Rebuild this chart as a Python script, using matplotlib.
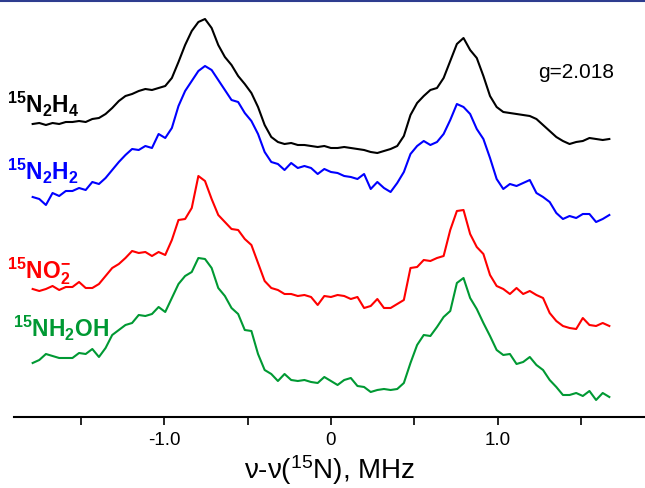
import numpy as np
import matplotlib.pyplot as plt
from matplotlib.lines import Line2D

plt.rcParams["font.family"] = ["Liberation Sans", "DejaVu Sans"]
plt.rcParams["mathtext.default"] = "regular"

# ENDOR sweep, nu - nu(15N) in MHz
freq = np.linspace(-1.79, 1.67, 88)

# stacked spectra (arbitrary units, offsets included)
n2h4 = [293, 294, 292, 294, 293, 295, 295, 296, 295, 298, 299, 303, 309, 316, 321, 323,
        326, 328, 327, 329, 331, 339, 355, 372, 386, 395, 398, 389, 372, 360, 352, 341,
        333, 324, 310, 292, 280, 275, 273, 274, 272, 272, 271, 270, 271, 269, 269, 270,
        269, 268, 267, 265, 264, 266, 268, 271, 281, 302, 314, 321, 327, 329, 339, 356,
        373, 379, 367, 359, 341, 321, 310, 305, 304, 303, 302, 301, 298, 292, 286, 280,
        276, 273, 275, 276, 279, 278, 277, 278]
n2h2 = [220, 218, 212, 224, 221, 226, 226, 229, 227, 235, 233, 239, 247, 255, 262, 268,
        267, 271, 269, 283, 279, 289, 311, 326, 336, 346, 351, 347, 337, 327, 317, 315,
        304, 296, 283, 265, 255, 253, 247, 254, 249, 251, 249, 243, 248, 245, 244, 241,
        240, 238, 243, 228, 235, 229, 225, 234, 245, 263, 271, 276, 272, 275, 283, 297,
        313, 310, 303, 288, 278, 259, 238, 228, 233, 231, 234, 237, 224, 220, 215, 204,
        198, 201, 199, 203, 203, 195, 198, 202]
no2 = [128, 126, 128, 131, 127, 130, 130, 135, 129, 129, 133, 141, 149, 153, 159, 166,
       164, 165, 161, 165, 162, 177, 197, 198, 209, 241, 236, 218, 202, 195, 188, 187,
       178, 172, 154, 136, 129, 127, 123, 123, 121, 122, 120, 112, 121, 120, 122, 121,
       118, 120, 109, 111, 118, 109, 109, 113, 117, 149, 150, 157, 156, 159, 161, 187,
       206, 207, 183, 170, 163, 142, 131, 128, 123, 129, 123, 126, 122, 119, 104, 96,
       91, 89, 88, 99, 92, 91, 94, 91]
nh2oh = [54, 57, 63, 61, 59, 59, 59, 64, 63, 68, 60, 69, 82, 87, 92, 94,
         102, 101, 103, 110, 105, 119, 133, 141, 145, 159, 158, 149, 129, 121, 109, 103,
         87, 86, 63, 47, 43, 36, 43, 37, 36, 37, 35, 34, 40, 36, 32, 37,
         39, 31, 30, 25, 27, 28, 27, 28, 34, 54, 72, 82, 81, 90, 100, 106,
         134, 139, 119, 108, 94, 81, 67, 62, 63, 53, 55, 60, 52, 47, 37, 30,
         22, 22, 24, 21, 26, 17, 24, 20]

spectra = [n2h4, n2h2, no2, nh2oh]
colors = ["#000000", "#0000ff", "#ff0000", "#009933"]
names = [r"$^{15}$N$_2$H$_4$", r"$^{15}$N$_2$H$_2$", r"$^{15}$NO$_2^{-}$", r"$^{15}$NH$_2$OH"]
name_pos = [(-1.944, 304), (-1.944, 237), (-1.944, 139), (-1.908, 80)]

fig = plt.figure(figsize=(6.45, 4.88), dpi=100)
ax = fig.add_axes([0.0217, 0.1455, 0.9783, 0.8545])

for vals, col in zip(spectra, colors):
    ax.plot(freq, vals, color=col, lw=1.5)

for name, col, (tx, ty) in zip(names, colors, name_pos):
    ax.text(tx, ty, name, color=col, fontsize=16.5, fontweight="bold",
            va="baseline", ha="left", clip_on=False)

ax.text(1.47, 339, "g=2.018", fontsize=15, ha="center", va="baseline")

ax.set_xlim(-1.902, 1.884)
ax.set_ylim(0, 417)
for side in ["left", "right", "top"]:
    ax.spines[side].set_visible(False)
ax.spines["bottom"].set_linewidth(1.5)
ax.set_yticks([])
ax.set_xticks([-1.0, 0, 1.0], ["-1.0", "0", "1.0"])
ax.set_xticks([-1.5, -0.5, 0.5, 1.5], minor=True)
ax.tick_params(axis="x", which="both", direction="out", length=6, width=1.2,
               labelsize=13.5, pad=5)
ax.set_xlabel(r"ν-ν($^{15}$N), MHz", fontsize=20, labelpad=3)

fig.add_artist(Line2D([0, 1], [0.9985, 0.9985], color="#2e3d8f", lw=1.5,
                      transform=fig.transFigure))

fig.savefig("out.png", dpi=100)
